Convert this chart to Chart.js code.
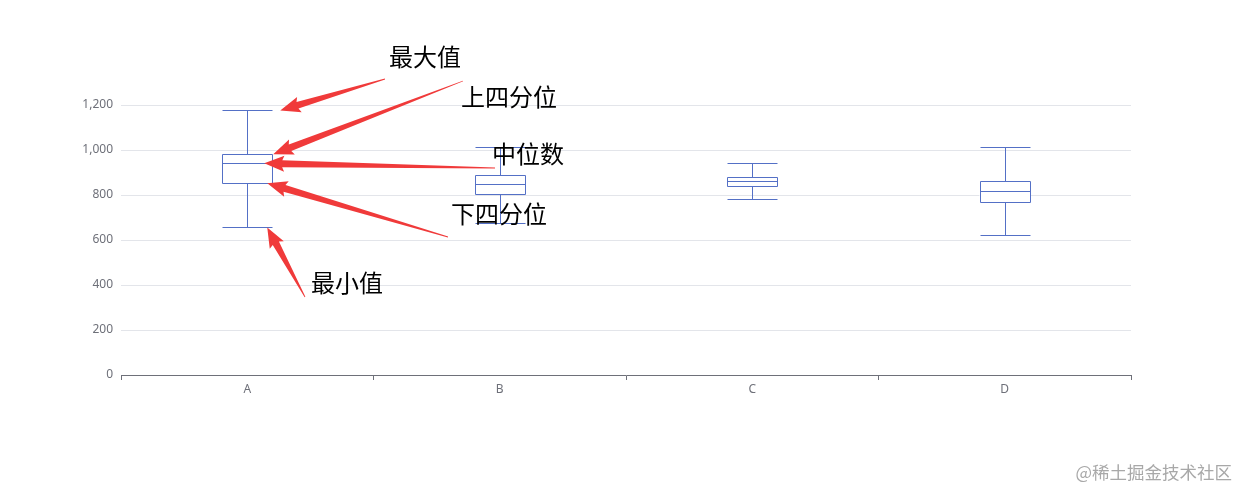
<!DOCTYPE html>
<html>
<head>
<meta charset="utf-8">
<script src="https://cdn.jsdelivr.net/npm/chart.js@4/dist/chart.umd.min.js"></script>
<style>
  html, body { margin: 0; padding: 0; background: #fff; }
  #wrap { position: relative; width: 1249px; height: 501px; }
</style>
</head>
<body>
<div id="wrap"><canvas id="chart"></canvas></div>
<script>
// categories and five-number summaries
const categories = ['A', 'B', 'C', 'D'];
const mins    = [656, 675, 781, 622];
const q1s     = [852, 803, 841, 769];
const medians = [941, 848, 862, 816];
const q3s     = [981, 887, 881, 864];
const maxs    = [1176, 1015, 941, 1012];
const yTicks  = [0, 200, 400, 600, 800, 1000, 1200];

// hand-drawn callouts pointing at box A
const callouts = [
  { text: '最大值',   key: 'max',    dx: 8,  tail: [385, 79],  label: [389, 57] },
  { text: '上四分位', key: 'q3',     dx: 1,  tail: [463, 81],  label: [461, 97] },
  { text: '中位数',   key: 'median', dx: -8, tail: [495, 168], label: [492, 154] },
  { text: '下四分位', key: 'q1',     dx: -5, tail: [448, 237], label: [451, 214] },
  { text: '最小值',   key: 'min',    dx: -5, tail: [305, 297], label: [311, 283] }
];

const BOX_COLOR = '#5470c6';
const AXIS_COLOR = '#6e7079';

function drawArrow(ctx, x0, y0, x1, y1) {
  const ang = Math.atan2(y1 - y0, x1 - x0);
  const len = Math.hypot(x1 - x0, y1 - y0);
  const headLen = 18, headW = 8, shaftW = 3.5;
  ctx.save();
  ctx.translate(x0, y0);
  ctx.rotate(ang);
  ctx.beginPath();
  ctx.moveTo(0, -0.4);
  ctx.lineTo(len - headLen, -shaftW);
  ctx.lineTo(len - headLen - 2, -headW);
  ctx.lineTo(len, 0);
  ctx.lineTo(len - headLen - 2, headW);
  ctx.lineTo(len - headLen, shaftW);
  ctx.lineTo(0, 0.4);
  ctx.closePath();
  ctx.fillStyle = '#f03a3a';
  ctx.fill();
  ctx.restore();
}

const boxplotPlugin = {
  id: 'boxplot',
  afterDatasetsDraw(chart) {
    const ctx = chart.ctx;
    const x = chart.scales.x, y = chart.scales.y;
    const bars = chart.getDatasetMeta(0).data;
    ctx.save();
    ctx.strokeStyle = BOX_COLOR;
    ctx.lineWidth = 1;
    categories.forEach((c, i) => {
      const cx = Math.round(x.getPixelForValue(i)) + 0.5;
      const half = Math.round(bars[i].width / 2);
      const py = v => Math.round(y.getPixelForValue(v)) + 0.5;
      ctx.beginPath();
      // box
      ctx.rect(cx - half, py(q3s[i]), half * 2, py(q1s[i]) - py(q3s[i]));
      // whiskers
      ctx.moveTo(cx, py(maxs[i])); ctx.lineTo(cx, py(q3s[i]));
      ctx.moveTo(cx, py(q1s[i])); ctx.lineTo(cx, py(mins[i]));
      // caps
      ctx.moveTo(cx - half, py(maxs[i])); ctx.lineTo(cx + half, py(maxs[i]));
      ctx.moveTo(cx - half, py(mins[i])); ctx.lineTo(cx + half, py(mins[i]));
      // median
      ctx.moveTo(cx - half, py(medians[i])); ctx.lineTo(cx + half, py(medians[i]));
      ctx.stroke();
    });
    ctx.restore();
  },
  afterDraw(chart) {
    const ctx = chart.ctx;
    const y = chart.scales.y;
    const barA = chart.getDatasetMeta(0).data[0];
    const right = barA.x + barA.width / 2;
    const vals = { max: maxs[0], q3: q3s[0], median: medians[0], q1: q1s[0], min: mins[0] };
    ctx.save();
    callouts.forEach(c => {
      drawArrow(ctx, c.tail[0], c.tail[1], right + c.dx, y.getPixelForValue(vals[c.key]));
    });
    ctx.fillStyle = '#000';
    ctx.font = '24px "Noto Sans CJK SC", sans-serif';
    ctx.textBaseline = 'middle';
    ctx.textAlign = 'left';
    callouts.forEach(c => ctx.fillText(c.text, c.label[0], c.label[1]));
    // watermark
    ctx.fillStyle = '#a8a8a8';
    ctx.font = '17.5px "Noto Sans CJK SC", sans-serif';
    ctx.textAlign = 'right';
    ctx.fillText('@稀土掘金技术社区', 1232, 472);
    ctx.restore();
  }
};

new Chart(document.getElementById('chart'), {
  type: 'bar',
  data: {
    labels: categories,
    datasets: [{
      data: categories.map((c, i) => [q1s[i], q3s[i]]),
      backgroundColor: '#fff',
      borderWidth: 0,
      barThickness: 50
    }]
  },
  options: {
    responsive: true,
    maintainAspectRatio: false,
    animation: false,
    layout: { padding: { left: 0, right: 118, top: 105, bottom: 96 } },
    plugins: { legend: { display: false }, tooltip: { enabled: false } },
    scales: {
      x: {
        offset: true,
        afterFit: s => { s.height = 30; },
        grid: { offset: true, drawOnChartArea: false, drawTicks: true, tickLength: 5, color: AXIS_COLOR },
        border: { display: true, color: AXIS_COLOR, width: 1 },
        ticks: { color: AXIS_COLOR, font: { family: 'Noto Sans', size: 12 }, padding: 2 }
      },
      y: {
        min: 0,
        max: 1200,
        afterFit: s => { s.width = 121; },
        afterBuildTicks: s => { s.ticks = yTicks.map(v => ({ value: v })); },
        grid: { color: '#e3e5ea', drawTicks: false },
        border: { display: false },
        ticks: { color: AXIS_COLOR, font: { family: 'Noto Sans', size: 12 }, padding: 8 }
      }
    }
  },
  plugins: [boxplotPlugin]
});
</script>
</body>
</html>
